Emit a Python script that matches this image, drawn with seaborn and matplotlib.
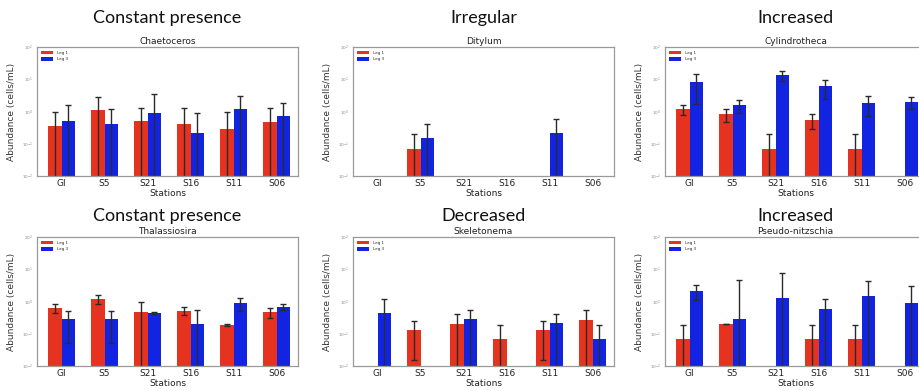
import numpy as np
import pandas as pd
import matplotlib
matplotlib.use('Agg')
import matplotlib.pyplot as plt
import seaborn as sns

stations = ['GI', 'S5', 'S21', 'S16', 'S11', 'S06']
legs = ['Leg 1', 'Leg 3']
nan = np.nan

# mean abundance and standard deviation (cells/mL) per station
chaetoceros_leg1 = [0.36, 1.12, 0.49, 0.41, 0.28, 0.46]
chaetoceros_leg1_sd = [0.64, 1.76, 0.83, 0.91, 0.72, 0.86]
chaetoceros_leg3 = [0.49, 0.42, 0.89, 0.22, 1.23, 0.72]
chaetoceros_leg3_sd = [1.09, 0.78, 2.66, 0.69, 1.86, 1.06]

ditylum_leg1 = [nan, 0.071, nan, nan, nan, nan]
ditylum_leg1_sd = [nan, 0.124, nan, nan, nan, nan]
ditylum_leg3 = [nan, 0.148, nan, nan, 0.219, nan]
ditylum_leg3_sd = [nan, 0.27, nan, nan, 0.356, nan]

cylindrotheca_leg1 = [1.17, 0.83, 0.071, 0.55, 0.071, nan]
cylindrotheca_leg1_sd = [0.41, 0.37, 0.124, 0.26, 0.124, nan]
cylindrotheca_leg3 = [8.1, 1.62, 13.2, 6.0, 1.9, 2.0]
cylindrotheca_leg3_sd = [6.4, 0.72, 4.6, 3.5, 1.2, 0.8]

thalassiosira_leg1 = [0.62, 1.2, 0.46, 0.525, 0.19, 0.46]
thalassiosira_leg1_sd = [0.19, 0.38, 0.52, 0.15, 0.01, 0.16]
thalassiosira_leg3 = [0.28, 0.28, 0.43, 0.2, 0.89, 0.67]
thalassiosira_leg3_sd = [0.23, 0.23, 0.03, 0.35, 0.4, 0.14]

skeletonema_leg1 = [nan, 0.135, 0.2, 0.071, 0.135, 0.26]
skeletonema_leg1_sd = [nan, 0.12, 0.22, 0.12, 0.12, 0.29]
skeletonema_leg3 = [0.43, nan, 0.28, nan, 0.21, 0.071]
skeletonema_leg3_sd = [0.77, nan, 0.27, nan, 0.2, 0.12]

pseudo_leg1 = [0.071, 0.2, nan, 0.071, 0.071, nan]
pseudo_leg1_sd = [0.12, 0.0, nan, 0.12, 0.12, nan]
pseudo_leg3 = [2.14, 0.29, 1.29, 0.6, 1.45, 0.91]
pseudo_leg3_sd = [1.0, 4.2, 6.6, 0.6, 3.0, 2.2]

group_titles = ['Constant presence', 'Irregular', 'Increased',
                'Constant presence', 'Decreased', 'Increased']
species = ['Chaetoceros', 'Ditylum', 'Cylindrotheca',
           'Thalassiosira', 'Skeletonema', 'Pseudo-nitzschia']
panels = [
    (chaetoceros_leg1, chaetoceros_leg1_sd, chaetoceros_leg3, chaetoceros_leg3_sd),
    (ditylum_leg1, ditylum_leg1_sd, ditylum_leg3, ditylum_leg3_sd),
    (cylindrotheca_leg1, cylindrotheca_leg1_sd, cylindrotheca_leg3, cylindrotheca_leg3_sd),
    (thalassiosira_leg1, thalassiosira_leg1_sd, thalassiosira_leg3, thalassiosira_leg3_sd),
    (skeletonema_leg1, skeletonema_leg1_sd, skeletonema_leg3, skeletonema_leg3_sd),
    (pseudo_leg1, pseudo_leg1_sd, pseudo_leg3, pseudo_leg3_sd),
]

colors = {'Leg 1': '#e5331f', 'Leg 3': '#1224e2'}
bar_width = 0.62

sns.set_style('white')
fig = plt.figure(figsize=(9.2, 3.91), dpi=100)

lefts = [37 / 920, 353 / 920, 665 / 920]
bottoms = [1 - 176 / 391, 1 - 366 / 391]
w, h = 261 / 920, 129 / 391

for k, (title, name, vals) in enumerate(zip(group_titles, species, panels)):
    row, col = divmod(k, 3)
    ax = fig.add_axes([lefts[col], bottoms[row], w, h])
    l1, l1sd, l3, l3sd = vals
    df = pd.DataFrame({
        'station': stations * 2,
        'leg': ['Leg 1'] * 6 + ['Leg 3'] * 6,
        'abundance': list(l1) + list(l3),
        'sd': list(l1sd) + list(l3sd),
    }).dropna(subset=['abundance'])

    sns.barplot(data=df, x='station', y='abundance', hue='leg',
                order=stations, hue_order=legs, palette=colors,
                width=bar_width, errorbar=None,
                saturation=1, linewidth=0, ax=ax)

    # error bars at dodged positions
    for j, leg in enumerate(legs):
        sub = df[df['leg'] == leg]
        xs = [stations.index(s) + (j - 0.5) * bar_width / 2 for s in sub['station']]
        ax.errorbar(xs, sub['abundance'], yerr=sub['sd'], fmt='none',
                    ecolor='#2a2a2a', elinewidth=1, capsize=2, capthick=1)

    ax.set_yscale('log', nonpositive='clip')
    ax.set_ylim(1e-2, 1e2)
    ax.set_xlim(-0.57, 5.5)
    ax.set_title(name, fontsize=6.5, pad=2, color='#222222')
    ax.set_xlabel('Stations', fontsize=6.5, labelpad=1, color='#222222')
    ax.set_ylabel('Abundance (cells/mL)', fontsize=6.5, labelpad=4, color='#333333')
    ax.tick_params(axis='x', labelsize=6.5, length=0, pad=2, colors='#222222')
    ax.tick_params(axis='y', which='both', labelsize=3, length=0, pad=3,
                   colors='#888888')
    ax.minorticks_off()
    for sp in ax.spines.values():
        sp.set_color('#9a9a9a')
        sp.set_linewidth(0.9)
    ax.legend(loc='upper left', fontsize=3, frameon=False,
              handlelength=3, handleheight=1, borderaxespad=0.5)

    ytitle = 18 if row == 0 else 216
    fig.text(lefts[col] + w / 2, 1 - ytitle / 391, title, ha='center',
             va='center', fontsize=13, family='Lato', color='#111111')

fig.savefig('out.png', dpi=100)
